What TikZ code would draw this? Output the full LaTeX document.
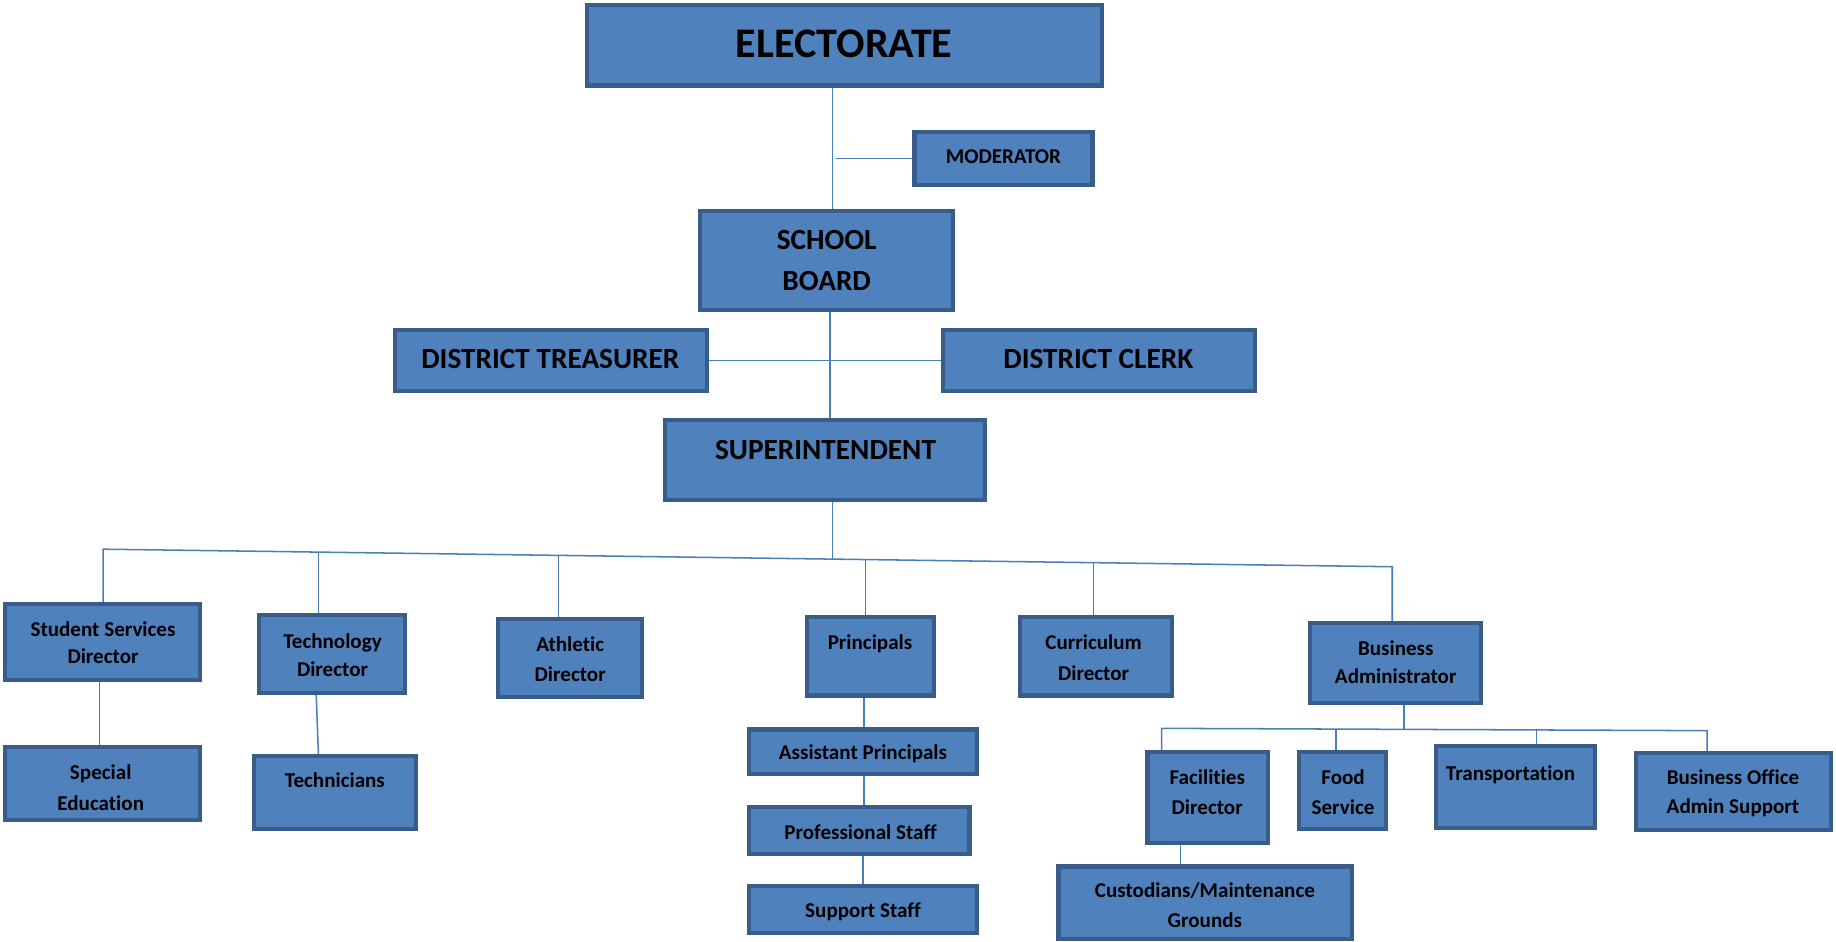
\documentclass[tikz,border=0pt]{standalone}
\usepackage{fontspec}
\setmainfont{Carlito}[Ligatures=NoCommon]
\usetikzlibrary{calc}
\definecolor{boxfill}{HTML}{4F81BD}
\definecolor{boxline}{HTML}{385D8A}
\definecolor{connline}{HTML}{4A7EBB}
\begin{document}
\begin{tikzpicture}[x=1pt,y=-1pt,
  obox/.style={draw=boxline, fill=boxfill, line width=3.5pt, inner sep=0pt, outer sep=0pt, rectangle},
  conn/.style={draw=connline, line width=1.3pt},
  txt/.style={inner sep=0pt, anchor=base, text=black},
  fbig/.style={txt, font=\fontsize{36}{40}\selectfont\bfseries},
  fmid/.style={txt, font=\fontsize{25}{28}\selectfont\bfseries},
  fsm/.style={txt, font=\fontsize{18}{21}\selectfont\bfseries}]
\useasboundingbox[fill=white] (0,0) rectangle (1568,804);

% boxes
\node[obox, minimum width=440pt, minimum height=69pt] (elect) at (721,38.5) {};
\node[obox, minimum width=152pt, minimum height=45pt] (moder) at (857,135.5) {};
\node[obox, minimum width=216pt, minimum height=85pt] (board) at (706,222.5) {};
\node[obox, minimum width=267pt, minimum height=52pt] (treas) at (470.5,308) {};
\node[obox, minimum width=267pt, minimum height=52pt] (clerk) at (938.5,308) {};
\node[obox, minimum width=273pt, minimum height=68pt] (supt) at (704.5,393) {};
\node[obox, minimum width=167pt, minimum height=65pt] (ssd) at (87.5,548.5) {};
\node[obox, minimum width=125pt, minimum height=67pt] (tech) at (283.5,558.5) {};
\node[obox, minimum width=123pt, minimum height=66pt] (ath) at (486.5,562) {};
\node[obox, minimum width=109pt, minimum height=67pt] (prin) at (743.5,560.5) {};
\node[obox, minimum width=130pt, minimum height=67pt] (curr) at (936,560.5) {};
\node[obox, minimum width=146pt, minimum height=68pt] (badm) at (1192,566) {};
\node[obox, minimum width=167pt, minimum height=62pt] (sped) at (87.5,669) {};
\node[obox, minimum width=138pt, minimum height=62pt] (techn) at (286,677) {};
\node[obox, minimum width=194pt, minimum height=38pt] (asst) at (737,642) {};
\node[obox, minimum width=188pt, minimum height=40pt] (prof) at (734,709) {};
\node[obox, minimum width=194pt, minimum height=40pt] (supp) at (737,777) {};
\node[obox, minimum width=103pt, minimum height=78pt] (fac) at (1031.5,681) {};
\node[obox, minimum width=75pt, minimum height=66pt] (food) at (1146.5,675) {};
\node[obox, minimum width=136pt, minimum height=70pt] (trans) at (1294,672) {};
\node[obox, minimum width=167pt, minimum height=66pt] (boas) at (1480.5,676) {};
\node[obox, minimum width=251pt, minimum height=62pt] (cust) at (1029.5,771) {};

% junction coordinates
\coordinate (modj) at (714,135.5);
\coordinate (busL) at (88,469);
\coordinate (busR) at (1189,484);
\coordinate (bsup) at (711,477.5);
\coordinate (btech) at (272,471.5);
\coordinate (bath) at (477,474.3);
\coordinate (bprin) at (739,477.9);
\coordinate (bcurr) at (934,480.5);
\coordinate (b2L) at (992,622);
\coordinate (b2R) at (1458,624);
\coordinate (b2adm) at (1199,622.9);
\coordinate (b2food) at (1141,622.5);
\coordinate (b2trans) at (1312,623.4);

% connectors
\draw[conn] (711,0 |- elect.south) -- (711,0 |- board.north);
\draw[conn] (modj) -- (moder.west);
\draw[conn] (709,0 |- board.south) -- (709,0 |- supt.north);
\draw[conn] (treas.east) -- (clerk.west);
\draw[conn] (711,0 |- supt.south) -- (bsup);
\draw[conn] (ssd.north -| busL) -- (busL) -- (busR) -- (busR |- badm.north);
\draw[conn] (btech) -- (btech |- tech.north);
\draw[conn] (bath) -- (bath |- ath.north);
\draw[conn] (bprin) -- (bprin |- prin.north);
\draw[conn] (bcurr) -- (bcurr |- curr.north);
\draw[conn] (85,0 |- ssd.south) -- (85,0 |- sped.north);
\draw[conn] (270,0 |- tech.south) -- (272,0 |- techn.north);
\draw[conn] (738,0 |- prin.south) -- (738,0 |- asst.north);
\draw[conn] (738,0 |- asst.south) -- (738,0 |- prof.north);
\draw[conn] (737,0 |- prof.south) -- (737,0 |- supp.north);
\draw[conn] (1199,0 |- badm.south) -- (b2adm);
\draw[conn] (fac.north -| b2L) -- (b2L) -- (b2R) -- (b2R |- boas.north);
\draw[conn] (b2food) -- (b2food |- food.north);
\draw[conn] (b2trans) -- (b2trans |- trans.north);
\draw[conn] (1008,0 |- fac.south) -- (1008,0 |- cust.north);

% redraw box borders on top of connector ends
\foreach \n in {elect,moder,board,treas,clerk,supt,ssd,tech,ath,prin,curr,badm,sped,techn,asst,prof,supp,fac,food,trans,boas,cust}{
  \draw[draw=boxline, line width=3.5pt] (\n.north west) rectangle (\n.south east);
}

% texts
\node[fbig] (telect) at (721,49.5) {ELECTORATE};
\node[fsm] (tmoder) at (857,139.8) {MODERATOR};
\node[fmid] (tboard1) at (706,213) {SCHOOL};
\node[fmid] (tboard2) at (706,248) {BOARD};
\node[fmid] (ttreas) at (470,315) {DISTRICT TREASURER};
\node[fmid] (tclerk) at (938,315) {DISTRICT CLERK};
\node[fmid] (tsupt) at (705,392) {SUPERINTENDENT};
\node[fsm] (tssd1) at (88,543.8) {Student Services};
\node[fsm] (tssd2) at (88,566.8) {Director};
\node[fsm] (ttech1) at (284,553.8) {Technology};
\node[fsm] (ttech2) at (284,577.8) {Director};
\node[fsm] (tath1) at (487,556.8) {Athletic};
\node[fsm] (tath2) at (487,581.8) {Director};
\node[fsm] (tprin) at (743,554.8) {Principals};
\node[fsm] (tcurr1) at (934,554.8) {Curriculum};
\node[fsm] (tcurr2) at (934,580.8) {Director};
\node[fsm] (tbadm1) at (1192,559.8) {Business};
\node[fsm] (tbadm2) at (1192,583.8) {Administrator};
\node[fsm] (tsped1) at (86,665.8) {Special};
\node[fsm] (tsped2) at (86,691.8) {Education};
\node[fsm] (ttechn) at (286,672.8) {Technicians};
\node[fsm] (tasst) at (737,648.8) {Assistant Principals};
\node[fsm] (tprof) at (735,716.8) {Professional Staff};
\node[fsm] (tsupp) at (737,783.8) {Support Staff};
\node[fsm] (tfac1) at (1031,669.8) {Facilities};
\node[fsm] (tfac2) at (1031,695.8) {Director};
\node[fsm] (tfood1) at (1147,669.8) {Food};
\node[fsm] (tfood2) at (1147,695.8) {Service};
\node[fsm] (ttrans) at (1290,666.8) {Transportation};
\node[fsm] (tboas1) at (1480,669.8) {Business Office};
\node[fsm] (tboas2) at (1480,694.8) {Admin Support};
\node[fsm] (tcust1) at (1029,766.8) {Custodians/Maintenance};
\node[fsm] (tcust2) at (1029,791.8) {Grounds};
\end{tikzpicture}
\end{document}
